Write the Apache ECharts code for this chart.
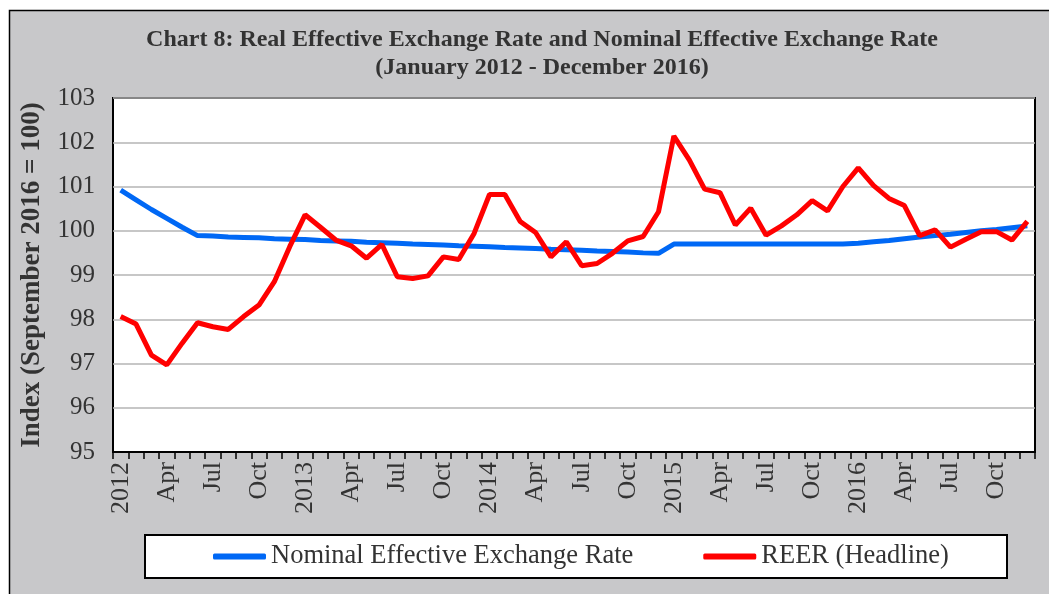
<!DOCTYPE html>
<html>
<head>
<meta charset="utf-8">
<script src="https://cdn.jsdelivr.net/npm/echarts@6/dist/echarts.min.js"></script>
<style>
  html, body { margin: 0; padding: 0; background: #fff; }
  #chart { width: 1049px; height: 594px; }
</style>
</head>
<body>
<div id="chart"></div>
<script>
// month labels: January shows the year, other months their short name
var years = [2012, 2013, 2014, 2015, 2016];
var months = ['Jan', 'Feb', 'Mar', 'Apr', 'May', 'Jun', 'Jul', 'Aug', 'Sep', 'Oct', 'Nov', 'Dec'];
var categories = [];
years.forEach(function (y) {
  months.forEach(function (m, i) { categories.push(i === 0 ? String(y) : m); });
});

var neer = [
  100.92, 100.70, 100.48, 100.28, 100.08, 99.89, 99.88, 99.86, 99.85, 99.84, 99.82, 99.81,
  99.80, 99.78, 99.77, 99.76, 99.74, 99.73, 99.72, 99.70, 99.69, 99.68, 99.66, 99.65,
  99.64, 99.62, 99.61, 99.60, 99.58, 99.57, 99.56, 99.54, 99.53, 99.52, 99.50, 99.49,
  99.70, 99.70, 99.70, 99.70, 99.70, 99.70, 99.70, 99.70, 99.70, 99.70, 99.70, 99.70,
  99.72, 99.75, 99.78, 99.82, 99.86, 99.89, 99.92, 99.96, 100.00, 100.03, 100.07, 100.11
];
var reer = [
  98.06, 97.89, 97.19, 96.97, 97.46, 97.92, 97.83, 97.77, 98.06, 98.32, 98.85, 99.64,
  100.36, 100.08, 99.79, 99.66, 99.38, 99.69, 98.96, 98.92, 98.98, 99.41, 99.35, 99.94,
  100.82, 100.82, 100.21, 99.96, 99.41, 99.75, 99.21, 99.26, 99.49, 99.77, 99.87, 100.43,
  102.14, 101.60, 100.94, 100.86, 100.13, 100.51, 99.90, 100.11, 100.36, 100.68, 100.45, 101.00,
  101.42, 101.02, 100.73, 100.57, 99.89, 100.02, 99.63, 99.81, 99.98, 99.98, 99.79, 100.21
];

var serif = '"Liberation Serif", "DejaVu Serif", serif';
var txt = '#333';

var myChart = echarts.init(document.getElementById('chart'));
var option = {
  backgroundColor: '#fff',
  animation: false,
  graphic: [
    {
      type: 'rect', z: -100, silent: true,
      shape: { x: 9.5, y: 10.5, width: 1100, height: 600 },
      style: { fill: '#c8c8ca', stroke: '#000', lineWidth: 1.5 }
    },
    {
      type: 'rect', z: -50, silent: true,
      shape: { x: 145, y: 535, width: 862, height: 43 },
      style: { fill: '#fff', stroke: '#000', lineWidth: 2 }
    }
  ],
  title: {
    text: 'Chart 8: Real Effective Exchange Rate and Nominal Effective Exchange Rate\n(January 2012 - December 2016)',
    left: 537, textAlign: 'center',
    top: 21,
    textStyle: { fontFamily: serif, fontSize: 24, fontWeight: 'bold', color: txt, lineHeight: 28 }
  },
  legend: {
    left: 213, top: 543, padding: 0,
    icon: 'roundRect',
    itemWidth: 53, itemHeight: 6,
    itemGap: 70,
    textStyle: { fontFamily: serif, fontSize: 26.5, color: txt },
    data: ['Nominal Effective Exchange Rate', 'REER (Headline)']
  },
  grid: {
    left: 113, top: 98, width: 922, height: 354,
    show: true, backgroundColor: '#fff',
    borderColor: '#000', borderWidth: 2
  },
  xAxis: {
    type: 'category',
    data: categories,
    boundaryGap: true,
    axisLine: { lineStyle: { color: '#000', width: 2 } },
    axisTick: { show: true, interval: 0, length: 7, lineStyle: { color: '#000', width: 1.5 } },
    axisLabel: {
      interval: 2, rotate: 90, margin: 10,
      fontFamily: serif, fontSize: 26, color: txt
    },
    splitLine: { show: false }
  },
  yAxis: {
    type: 'value',
    min: 95, max: 103, interval: 1,
    name: 'Index (September 2016 = 100)',
    nameLocation: 'middle', nameGap: 67,
    nameTextStyle: { fontFamily: serif, fontSize: 27, fontWeight: 'bold', color: txt },
    axisLine: { show: false },
    axisTick: { show: false },
    axisLabel: { margin: 18, fontFamily: serif, fontSize: 25, color: txt },
    splitLine: { lineStyle: { color: '#b4b4b4', width: 1.5 } }
  },
  series: [
    {
      name: 'Nominal Effective Exchange Rate',
      type: 'line',
      data: neer,
      symbol: 'none',
      lineStyle: { color: '#0068f5', width: 5 },
      itemStyle: { color: '#0068f5' }
    },
    {
      name: 'REER (Headline)',
      type: 'line',
      data: reer,
      symbol: 'none',
      lineStyle: { color: '#ff0000', width: 5 },
      itemStyle: { color: '#ff0000' }
    }
  ]
};
myChart.setOption(option);
window.addEventListener('resize', function () { myChart.resize(); });
</script>
</body>
</html>
